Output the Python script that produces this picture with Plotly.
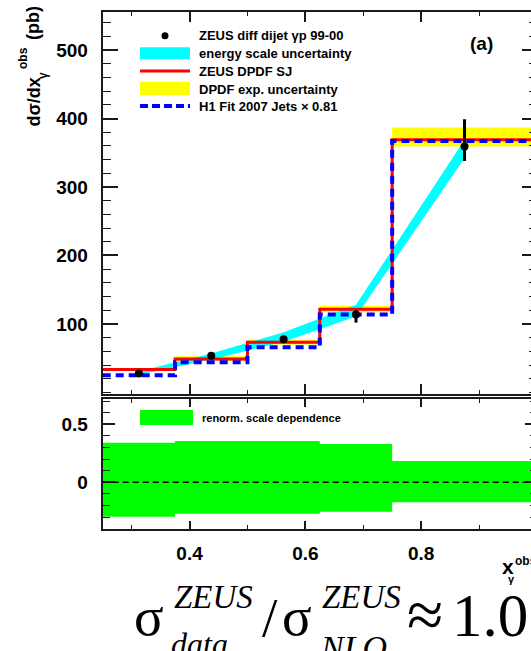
import plotly.graph_objects as go

# Bin edges in x_gamma^obs and the bin centres where the data sit
x_edges = [0.25, 0.375, 0.5, 0.625, 0.75, 1.0]
x_centres = [0.3125, 0.4375, 0.5625, 0.6875, 0.875]

# ZEUS diffractive dijet photoproduction cross section (pb)
data_y = [27.7, 53.7, 77.8, 114.0, 359.0]
data_err_up = [2.5, 3.0, 3.0, 6.0, 40.0]
data_err_dn = [2.5, 3.0, 3.0, 12.0, 21.0]

# Energy-scale uncertainty band (edges at the bin centres)
escale_hi = [31.0, 57.0, 88.0, 128.0, 369.0]
escale_lo = [26.0, 48.0, 74.0, 111.0, 342.0]

# NLO predictions
zeus_sj = [33.5, 49.0, 73.5, 121.5, 369.0]
zeus_sj_hi = [35.5, 52.8, 77.5, 126.5, 387.0]
zeus_sj_lo = [31.5, 46.0, 70.0, 117.0, 359.0]
h1_jets = [25.0, 44.0, 66.0, 114.0, 367.0]

# Relative renormalisation-scale dependence
renorm_hi = [0.341, 0.356, 0.356, 0.330, 0.184]
renorm_lo = [-0.297, -0.270, -0.270, -0.253, -0.172]

# Axis tick labels
top_y_ticks = [100, 200, 300, 400, 500]
bot_y_ticks = [0, 0.5]
bot_y_text = ["0", "0.5"]
x_ticks = [0.4, 0.6, 0.8, 1.0]
x_text = ["0.4", "0.6", "0.8", "1"]

W, H = 540, 651
INK = "#1a1a1a"


def px(x):
    return x / W


def py(y):
    return (H - y) / H


def step_band(edges, lo, hi):
    xs, ys = [], []
    for i in range(len(hi)):
        xs += [edges[i], edges[i + 1]]
        ys += [hi[i], hi[i]]
    for i in reversed(range(len(lo))):
        xs += [edges[i + 1], edges[i]]
        ys += [lo[i], lo[i]]
    return xs + [xs[0]], ys + [ys[0]]


def step_line(edges, vals):
    return edges, list(vals) + [vals[-1]]


fig = go.Figure()

# DPDF experimental uncertainty (yellow)
bx, by = step_band(x_edges, zeus_sj_lo, zeus_sj_hi)
fig.add_trace(go.Scatter(x=bx, y=by, fill="toself", fillcolor="#ffff00",
                         line=dict(width=0), mode="lines", hoverinfo="skip",
                         xaxis="x", yaxis="y"))

# energy-scale uncertainty (cyan), linear between bin centres
ex = x_centres + x_centres[::-1] + [x_centres[0]]
ey = escale_hi + escale_lo[::-1] + [escale_hi[0]]
fig.add_trace(go.Scatter(x=ex, y=ey, fill="toself", fillcolor="#00ffff",
                         line=dict(width=0), mode="lines", hoverinfo="skip",
                         xaxis="x", yaxis="y"))

# ZEUS DPDF SJ histogram
sx, sy = step_line(x_edges, zeus_sj)
fig.add_trace(go.Scatter(x=sx, y=sy, mode="lines", line_shape="hv",
                         line=dict(color="#ff0000", width=3),
                         xaxis="x", yaxis="y"))

# H1 Fit 2007 Jets x 0.81 histogram
hx, hy = step_line(x_edges, h1_jets)
fig.add_trace(go.Scatter(x=hx, y=hy, mode="lines", line_shape="hv",
                         line=dict(color="#0000ff", width=4, dash="8px,5px"),
                         xaxis="x", yaxis="y"))

# data points
fig.add_trace(go.Scatter(
    x=x_centres, y=data_y, mode="markers",
    marker=dict(color="black", size=8),
    error_y=dict(type="data", symmetric=False, array=data_err_up,
                 arrayminus=data_err_dn, color="black", thickness=3, width=0),
    xaxis="x", yaxis="y"))

# renormalisation-scale band (green)
gx, gy = step_band(x_edges, renorm_lo, renorm_hi)
fig.add_trace(go.Scatter(x=gx, y=gy, fill="toself", fillcolor="#00ff00",
                         line=dict(width=0), mode="lines", hoverinfo="skip",
                         xaxis="x2", yaxis="y2"))

frame = dict(showline=True, linecolor=INK, linewidth=2, mirror="allticks",
             ticks="inside", tickcolor=INK, tickwidth=1.5,
             showgrid=False, zeroline=False)
tick_font = dict(family="Liberation Sans", size=19, color="black", weight="bold")
x_dom = [px(102.7), px(536.9)]
x_minor = dict(tickvals=[0.3, 0.5, 0.7, 0.9], ticks="inside", ticklen=4,
               tickcolor=INK, tickwidth=1.2)

fig.update_layout(
    width=W, height=H, margin=dict(l=0, r=0, t=0, b=0),
    paper_bgcolor="white", plot_bgcolor="white", showlegend=False,
    font=dict(family="Liberation Sans", color="black"),
    xaxis=dict(frame, anchor="y", domain=x_dom, range=[0.25, 1.0],
               tickvals=x_ticks, showticklabels=False, ticklen=10,
               minor=x_minor),
    yaxis=dict(frame, anchor="x", domain=[py(394), py(11.5)],
               range=[-2.2, 556.2], tickvals=top_y_ticks, ticklen=15,
               tickfont=tick_font, ticklabelstandoff=9,
               minor=dict(dtick=20, tick0=0, ticks="inside", ticklen=8,
                          tickcolor=INK, tickwidth=1.2)),
    xaxis2=dict(frame, anchor="y2", domain=x_dom, range=[0.25, 1.0],
                tickvals=x_ticks, ticktext=x_text, ticklen=8,
                tickfont=tick_font, ticklabelstandoff=6, minor=x_minor),
    yaxis2=dict(frame, anchor="x2", domain=[py(529.3), py(399.3)],
                range=[-0.405, 0.7155], tickvals=bot_y_ticks,
                ticktext=bot_y_text, ticklen=12, tickfont=tick_font,
                ticklabelstandoff=9,
                minor=dict(dtick=0.1, tick0=0, ticks="inside", ticklen=7,
                           tickcolor=INK, tickwidth=1.2)),
)

# dashed zero line in the ratio panel
shapes = [dict(type="line", xref="x2 domain", yref="y2", x0=0, x1=1, y0=0, y1=0,
               line=dict(color="black", width=1.5, dash="6px,4px"))]

# legend keys
shapes += [
    dict(type="circle", xref="paper", yref="paper", x0=px(161.5), x1=px(168.5),
         y0=py(39.2), y1=py(32.2), fillcolor="black", line=dict(width=0)),
    dict(type="rect", xref="paper", yref="paper", x0=px(140), x1=px(190),
         y0=py(59.3), y1=py(47.3), fillcolor="#00ffff", line=dict(width=0)),
    dict(type="line", xref="paper", yref="paper", x0=px(140), x1=px(190),
         y0=py(71), y1=py(71), line=dict(color="#ff0000", width=3)),
    dict(type="rect", xref="paper", yref="paper", x0=px(140), x1=px(190),
         y0=py(95), y1=py(81.7), fillcolor="#ffff00", line=dict(width=0)),
    dict(type="line", xref="paper", yref="paper", x0=px(140), x1=px(190),
         y0=py(106), y1=py(106),
         line=dict(color="#0000ff", width=4, dash="8px,4px")),
    dict(type="rect", xref="paper", yref="paper", x0=px(140), x1=px(193),
         y0=py(425), y1=py(410), fillcolor="#00ff00", line=dict(width=0)),
]
fig.update_layout(shapes=shapes)


def label(text, x, y, size, xanchor="left", family="Liberation Sans",
          bold=True, italic=False, angle=0):
    return dict(text=text, x=px(x), y=py(y), xref="paper", yref="paper",
                xanchor=xanchor, yanchor="middle", showarrow=False,
                textangle=angle, borderpad=0,
                font=dict(family=family, size=size, color="black",
                          weight="bold" if bold else "normal",
                          style="italic" if italic else "normal"))


legend_rows = [
    ("ZEUS diff dijet γp 99-00", 35.7),
    ("energy scale uncertainty", 53.3),
    ("ZEUS DPDF SJ", 71.0),
    ("DPDF exp. uncertainty", 89.3),
    ("H1 Fit 2007 Jets × 0.81", 106.0),
]
ann = [label(t, 198, y, 13) for t, y in legend_rows]
ann.append(label("renorm. scale dependence", 201, 417.5, 11))
ann.append(label("(a)", 481, 43.5, 19, xanchor="center"))

# y-axis title, rotated
ann.append(label("dσ/dx", 33, 102.5, 18, xanchor="center", angle=-90))
ann.append(label("obs", 23, 58, 12, xanchor="center", angle=-90))
ann.append(label("γ", 43, 76, 12, xanchor="center", angle=-90))
ann.append(label("(pb)", 33, 23, 18, xanchor="center", angle=-90))

# x-axis title
ann.append(label("x", 500.5, 566, 21))
ann.append(label("obs", 514, 561, 12))
ann.append(label("γ", 507, 579, 11))

# cross-section ratio
SERIF = "Liberation Serif"
ann += [
    label("σ", 133, 616, 55, family=SERIF, bold=False),
    label("ZEUS", 173, 597, 33, family=SERIF, bold=False, italic=True),
    label("data", 170, 644, 32, family=SERIF, bold=False, italic=True),
    label("/", 261, 617, 55, family=SERIF, bold=False),
    label("σ", 281, 616, 55, family=SERIF, bold=False),
    label("ZEUS", 321, 597, 33, family=SERIF, bold=False, italic=True),
    label("NLO", 319, 647, 34, family=SERIF, bold=False, italic=True),
    label("≈", 406, 614, 66, family=SERIF, bold=False),
    label("1.0", 451, 615, 61, family=SERIF, bold=False),
]
fig.update_layout(annotations=ann)

fig.write_html(
    "out.html",
    post_script="document.documentElement.style.overflow='hidden';"
                "document.body.style.overflow='hidden';",
)
